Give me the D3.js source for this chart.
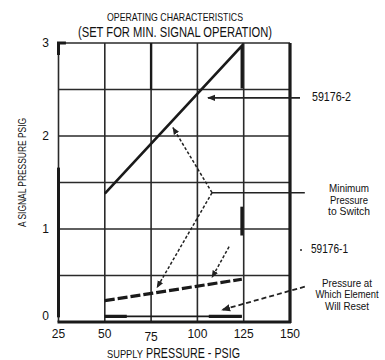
<!DOCTYPE html>
<html>
<head>
<meta charset="utf-8">
<script src="https://cdn.jsdelivr.net/npm/d3@7"></script>
<style>
  body { margin: 0; background: #fff; }
  text { font-family: "Liberation Sans", Arial, sans-serif; fill: #111; }
</style>
</head>
<body>
<div id="chart"></div>
<script>
// axis ticks
const xTicks = [25, 50, 75, 100, 125, 150];
const yTicks = [0, 1, 2, 3];
const yGrid = [0, 0.5, 1, 1.5, 2, 2.5, 3];

// characteristic curves (supply psig, signal psig)
const curve59176_2 = [[50, 1.38], [124, 2.97], [124, 2.51]];
const curve59176_1 = [[50, 0.23], [124, 0.46]];
const resetLine = [[50, 0.06], [124, 0.06]];

// annotation leaders
const leader59176_2 = [[155.4, 2.41], [105.7, 2.41]];
const leaderMinSwitch = [[158, 1.39], [107.9, 1.39]];
const branchUpper = [[107.9, 1.39], [86.8, 2.09]];
const branchLower = [[107.9, 1.39], [78.2, 0.37]];
const leader59176_1 = [[117.1, 0.81], [107.9, 0.48]];
const leaderReset = [[158, 0.38], [113.3, 0.13]];

const width = 385, height = 360;
const x = d3.scaleLinear().domain([25, 150]).range([58.5, 290]);
const y = d3.scaleLinear().domain([0, 3]).range([322, 43]);

const svg = d3.select("#chart").append("svg")
  .attr("width", width).attr("height", height);

svg.append("defs").append("marker")
  .attr("id", "arrow")
  .attr("viewBox", "0 0 10 10")
  .attr("refX", 9).attr("refY", 5)
  .attr("markerWidth", 5).attr("markerHeight", 5)
  .attr("orient", "auto")
  .append("path").attr("d", "M0,1 L10,5 L0,9 Z").attr("fill", "#222");

// squeeze text to the narrow face of the original
const fit = (sel, w) => sel.attr("textLength", w).attr("lengthAdjust", "spacingAndGlyphs");

// grid
const grid = svg.append("g").attr("stroke", "#2a2a2a").attr("stroke-width", 1.6);
grid.selectAll("line.v").data(xTicks).join("line")
  .attr("x1", d => x(d)).attr("x2", d => x(d))
  .attr("y1", y(0)).attr("y2", y(3));
grid.selectAll("line.h").data(yGrid).join("line")
  .attr("x1", x(25)).attr("x2", x(150))
  .attr("y1", d => y(d)).attr("y2", d => y(d));

// heavier frame edges
const frame = svg.append("g").attr("stroke", "#1a1a1a").attr("fill", "none");
frame.append("line").attr("x1", x(150)).attr("x2", x(150))
  .attr("y1", y(3)).attr("y2", y(0) + 1).attr("stroke-width", 3.2);
frame.append("line").attr("x1", x(25) - 1).attr("x2", x(150) + 1)
  .attr("y1", y(0)).attr("y2", y(0)).attr("stroke-width", 3.2);
frame.append("line").attr("x1", x(25)).attr("x2", x(25))
  .attr("y1", y(1.66)).attr("y2", y(0.05)).attr("stroke-width", 3);
frame.append("path")
  .attr("d", `M${x(25)},${y(2.87)} V${y(3)} H${x(29)}`).attr("stroke-width", 3);
frame.append("line").attr("x1", x(75)).attr("x2", x(75))
  .attr("y1", y(3)).attr("y2", y(2.5)).attr("stroke-width", 2.4);
frame.append("line").attr("x1", x(124)).attr("x2", x(124))
  .attr("y1", y(1.24)).attr("y2", y(0.93)).attr("stroke-width", 3);

const line = d3.line().x(d => x(d[0])).y(d => y(d[1]));

// curves
svg.append("path").datum(curve59176_2).attr("d", line)
  .attr("fill", "none").attr("stroke", "#1a1a1a").attr("stroke-width", 2.6);
svg.append("path").datum(curve59176_1).attr("d", line)
  .attr("fill", "none").attr("stroke", "#1a1a1a").attr("stroke-width", 3.2)
  .attr("stroke-dasharray", "10,3");
svg.append("path").datum(resetLine).attr("d", line)
  .attr("fill", "none").attr("stroke", "#1a1a1a").attr("stroke-width", 1.8);
svg.append("path").datum(resetLine).attr("d", line)
  .attr("fill", "none").attr("stroke", "#1a1a1a").attr("stroke-width", 3.4)
  .attr("stroke-dasharray", "22,82,40");

// leaders
const lead = svg.append("g").attr("fill", "none").attr("stroke", "#222");
lead.append("path").datum(leader59176_2).attr("d", line)
  .attr("stroke-width", 1.6).attr("marker-end", "url(#arrow)");
lead.append("path").datum(leaderMinSwitch).attr("d", line).attr("stroke-width", 1.6);
lead.append("path").datum(branchUpper).attr("d", line)
  .attr("stroke-width", 1.5).attr("stroke-dasharray", "3,2").attr("marker-end", "url(#arrow)");
lead.append("path").datum(branchLower).attr("d", line)
  .attr("stroke-width", 1.5).attr("stroke-dasharray", "3,2").attr("marker-end", "url(#arrow)");
lead.append("path").datum(leader59176_1).attr("d", line)
  .attr("stroke-width", 1.5).attr("stroke-dasharray", "3,2").attr("marker-end", "url(#arrow)");
lead.append("path").datum(leaderReset).attr("d", line)
  .attr("stroke-width", 1.8).attr("stroke-dasharray", "5,3").attr("marker-end", "url(#arrow)");

// tick labels
svg.append("g").attr("font-size", 12).attr("text-anchor", "middle")
  .selectAll("text").data(xTicks).join("text")
  .attr("x", d => x(d)).attr("y", (d, i) => i === 2 ? 341 : 338)
  .text(d => d);
svg.append("g").attr("font-size", 12).attr("text-anchor", "end")
  .selectAll("text").data(yTicks).join("text")
  .attr("x", 49).attr("y", d => d === 0 ? y(d) - 2 : y(d) + 4)
  .text(d => d);

// titles
fit(svg.append("text").attr("x", 107).attr("y", 21)
  .attr("font-size", 11.5).text("OPERATING CHARACTERISTICS"), 136);
fit(svg.append("text").attr("x", 78).attr("y", 37)
  .attr("font-size", 14.5).text("(SET FOR MIN. SIGNAL OPERATION)"), 194);

const xt = svg.append("text").attr("y", 358);
fit(xt.append("tspan").attr("x", 107).attr("font-size", 10.5).text("SUPPLY"), 36);
fit(xt.append("tspan").attr("x", 146).attr("font-size", 14.5).text("PRESSURE - PSIG"), 94);

fit(svg.append("text").attr("transform", "translate(26,227) rotate(-90)")
  .attr("font-size", 11.5).text("A SIGNAL PRESSURE PSIG"), 109);

// right-side labels
fit(svg.append("text").attr("x", 312).attr("y", 101).attr("font-size", 12).text("59176-2"), 39);
fit(svg.append("text").attr("x", 311).attr("y", 253).attr("font-size", 12).text("59176-1"), 37);
svg.append("circle").attr("cx", 301).attr("cy", 250).attr("r", 1).attr("fill", "#222");

const note1 = svg.append("text").attr("text-anchor", "middle").attr("font-size", 11.5);
[["Minimum", 40], ["Pressure", 38], ["to Switch", 42]].forEach(([t, w], i) =>
  fit(note1.append("tspan").attr("x", 349).attr("y", 192 + i * 11.6).text(t), w));
const note2 = svg.append("text").attr("text-anchor", "middle").attr("font-size", 10);
[["Pressure at", 50], ["Which Element", 63], ["Will Reset", 44]].forEach(([t, w], i) =>
  fit(note2.append("tspan").attr("x", 347).attr("y", 287 + i * 11.3).text(t), w));
</script>
</body>
</html>
